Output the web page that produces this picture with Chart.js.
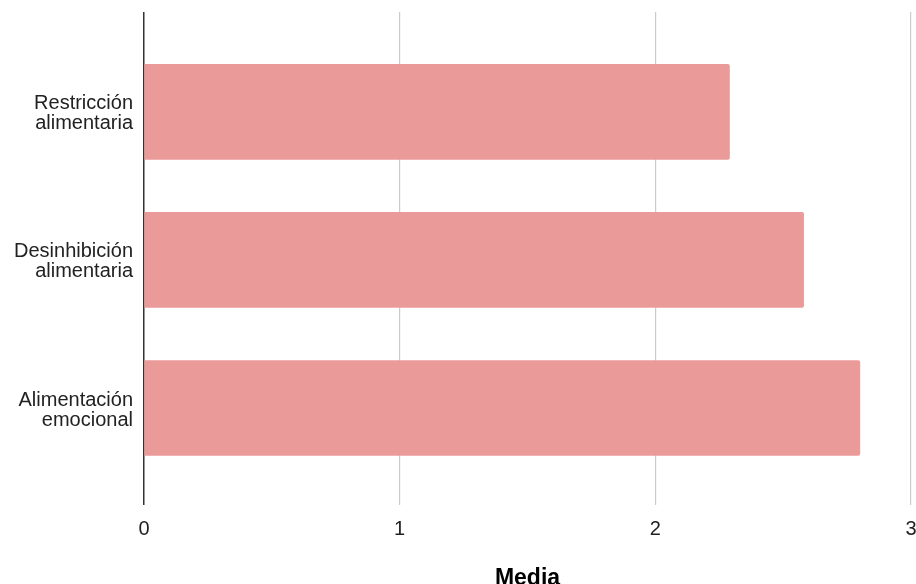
<!DOCTYPE html>
<html>
<head>
<meta charset="utf-8">
<script src="https://cdn.jsdelivr.net/npm/chart.js@4"></script>
<style>
html,body{margin:0;padding:0;background:#fff;}
#wrap{width:916px;height:584px;}
</style>
</head>
<body>
<div id="wrap"><canvas id="c" width="916" height="584"></canvas></div>
<script>
const categories = ['Restricción\nalimentaria', 'Desinhibición\nalimentaria', 'Alimentación\nemocional'];
const values = [2.29, 2.58, 2.80];
const xTicks = [0, 1, 2, 3];
const axisTitle = 'Media';

const data = values.map((v, i) => ({x: v, y: i}));

new Chart(document.getElementById('c'), {
  type: 'bar',
  data: {
    datasets: [{
      data: data,
      backgroundColor: '#e99a99',
      borderWidth: 0,
      borderRadius: 2,
      borderSkipped: 'start',
      barThickness: 95
    }]
  },
  options: {
    indexAxis: 'y',
    responsive: false,
    animation: false,
    layout: {padding: {top: 12, right: 5, left: 0, bottom: 0}},
    plugins: {legend: {display: false}, tooltip: {enabled: false}},
    scales: {
      x: {
        type: 'linear',
        min: 0, max: 3,
        afterBuildTicks: s => { s.ticks = xTicks.map(v => ({value: v})); },
        afterFit: s => { s.height = 79; s.paddingLeft = 0; s.paddingRight = 0; },
        grid: {
          color: ctx => (ctx.tick && ctx.tick.value === 0) ? '#333333' : '#cccccc',
          lineWidth: ctx => (ctx.tick && ctx.tick.value === 0) ? 1.5 : 1.2,
          drawTicks: false
        },
        border: {display: false},
        ticks: {
          color: '#222222',
          padding: 12,
          font: {family: 'Liberation Sans, Arial, sans-serif', size: 20}
        },
        title: {
          display: true,
          text: axisTitle,
          color: '#000000',
          padding: 0,
          font: {family: 'Liberation Sans, Arial, sans-serif', size: 23, weight: 'bold', lineHeight: 0.435}
        }
      },
      y: {
        type: 'linear',
        reverse: true,
        offset: false,
        min: -0.674, max: 2.655,
        afterBuildTicks: s => { s.ticks = categories.map((c, i) => ({value: i})); },
        afterFit: s => { s.width = 144; s.paddingTop = 0; s.paddingBottom = 0; },
        grid: {display: false, drawTicks: false},
        border: {display: false},
        ticks: {
          color: '#222222',
          padding: 11,
          labelOffset: 2,
          font: {family: 'Liberation Sans, Arial, sans-serif', size: 20, lineHeight: 1.0},
          callback: v => (categories[v] !== undefined ? categories[v].split('\n') : '')
        }
      }
    }
  }
});
</script>
</body>
</html>
